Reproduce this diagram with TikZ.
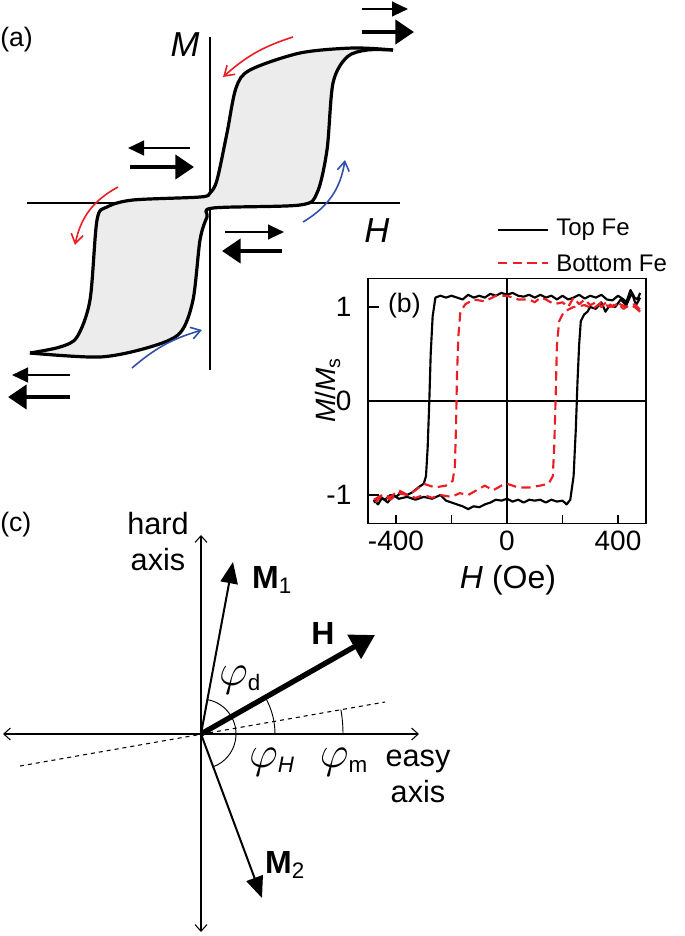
\documentclass[tikz,border=0pt]{standalone}
\usepackage{fontspec}
\setmainfont{Liberation Sans}
\usetikzlibrary{arrows.meta}
\definecolor{myred}{RGB}{235,30,35}
\definecolor{myblue}{RGB}{50,80,170}
\newcommand{\phisym}{\scalebox{1.35}{$\varphi$}}
\begin{document}
\begin{tikzpicture}[x=0.75pt,y=-0.75pt,
  lbl/.style={font=\fontsize{18}{20}\selectfont,inner sep=0pt},
  big/.style={font=\fontsize{26}{28}\selectfont\itshape,inner sep=0pt},
  curl/.style={line width=1.2pt,-{Straight Barb[length=7pt,width=9pt]}},
  thinmag/.style={line width=1.6pt,-{Triangle[length=12pt,width=11pt]}},
  thickmag/.style={line width=3.2pt,-{Triangle[length=14pt,width=18pt]}},
  ax/.style={line width=0.8pt,{Straight Barb[length=5pt,width=9pt]}-{Straight Barb[length=5pt,width=9pt]}},
  vec/.style={line width=1.5pt,-{Triangle[length=16pt,width=13pt]}},
]
\useasboundingbox (0,0) rectangle (685,936);
% ---------- panel (a)
\node[lbl,anchor=west,font=\fontsize{20}{22}\selectfont] (la) at (0,40) {(a)};
\draw[line width=0.8pt] (210,37) -- (210,370);
\draw[line width=0.8pt] (27,203) -- (400,203);
\node[big] (aM) at (185,45) {M};
\node[big] (aH) at (377,231) {H};
\path[fill=gray!15] plot[smooth,tension=0.5] coordinates {(393,50) (353,48) (300,53) (250,70) (236,88) (227,133) (217,180) (210,193) (200,197) (133,200) (107,207) (97,220) (90,300) (77,337) (60,347) (30,353) (33,355) (100,357) (150,347) (180,333) (193,300) (200,240) (207,217) (213,208) (300,205) (317,193) (327,150) (333,83) (347,57) (367,50) (393,50)};
\draw[line width=2.4pt,line join=round] plot[smooth,tension=0.5] coordinates {(393,50) (353,48) (300,53) (250,70) (236,88) (227,133) (217,180) (210,193) (200,197) (133,200) (107,207) (97,220) (90,300) (77,337) (60,347) (30,353)};
\draw[line width=2.4pt,line join=round] plot[smooth,tension=0.5] coordinates {(30,353) (100,357) (150,347) (180,333) (193,300) (200,240) (207,217) (213,208) (300,205) (317,193) (327,150) (333,83) (347,57) (367,50) (393,50)};
\coordinate (r1s) at (293,37); \coordinate (r1e) at (223,77);
\coordinate (r2s) at (118,187); \coordinate (r2e) at (75,245);
\coordinate (b1s) at (303,222); \coordinate (b1e) at (345,160);
\coordinate (b2s) at (132,368); \coordinate (b2e) at (202,330);
\draw[curl,myred] (r1s) to[bend right=12] (r1e);
\draw[curl,myred] (r2s) to[bend right=25] (r2e);
\draw[curl,myblue] (b1s) to[bend right=25] (b1e);
\draw[curl,myblue] (b2s) to[bend left=12] (b2e);
% magnet arrows
\coordinate (m1a) at (190,148); \coordinate (m1b) at (128,148);
\coordinate (m2a) at (130,167); \coordinate (m2b) at (194,167);
\coordinate (m3a) at (225,232); \coordinate (m3b) at (284,232);
\coordinate (m4a) at (282,251); \coordinate (m4b) at (222,251);
\coordinate (m5a) at (70,375); \coordinate (m5b) at (12,375);
\coordinate (m6a) at (70,397); \coordinate (m6b) at (8,397);
\coordinate (m7a) at (362,9); \coordinate (m7b) at (408,9);
\coordinate (m8a) at (362,32); \coordinate (m8b) at (414,32);
\draw[thinmag] (m1a) -- (m1b);
\draw[thickmag] (m2a) -- (m2b);
\draw[thinmag] (m3a) -- (m3b);
\draw[thickmag] (m4a) -- (m4b);
\draw[thinmag] (m5a) -- (m5b);
\draw[thickmag] (m6a) -- (m6b);
\draw[thinmag] (m7a) -- (m7b);
\draw[thickmag] (m8a) -- (m8b);
% ---------- panel (b)
\coordinate (l1a) at (498,230); \coordinate (l1b) at (548,230);
\coordinate (l2a) at (498,263); \coordinate (l2b) at (548,263);
\draw[line width=1.6pt] (l1a) -- (l1b);
\draw[line width=1.6pt,myred,dash pattern=on 7pt off 4pt] (l2a) -- (l2b);
\node[lbl,anchor=west] (tfe) at (556,230) {Top Fe};
\node[lbl,anchor=west] (bfe) at (556,263) {Bottom Fe};
\begin{scope}[shift={(507,401)},x=0.2081pt,y=70.5pt]
\draw[line width=0.8pt] (-501,-1.3) rectangle (501,1.3);
\draw[line width=0.8pt] (-501,0) -- (501,0);
\draw[line width=0.8pt] (0,-1.3) -- (0,1.3);
\foreach \t in {-400,-200,200,400} \draw[line width=0.8pt] (\t,-1.3) -- ++(0,0.09);
\foreach \t in {1,-1} \draw[line width=0.8pt] (-501,\t) -- ++(40,0);
\node[lbl,font=\fontsize{21}{22}\selectfont,anchor=east] (y1) at (-560,1) {1};
\node[lbl,font=\fontsize{21}{22}\selectfont,anchor=east] (y0) at (-560,0) {0};
\node[lbl,font=\fontsize{21}{22}\selectfont,anchor=east] (ym) at (-560,-1) {-1};
\node[lbl,font=\fontsize{21}{22}\selectfont,anchor=north] (x1) at (-400,-1.38) {-400};
\node[lbl,font=\fontsize{21}{22}\selectfont,anchor=north] (x0) at (0,-1.38) {0};
\node[lbl,font=\fontsize{21}{22}\selectfont,anchor=north] (x2) at (400,-1.38) {400};
\node[lbl,font=\fontsize{20}{22}\selectfont] (lb) at (-370,1.01) {(b)};
\draw[line width=1.6pt,line join=round] plot coordinates {(480,1.15) (470,1.08) (460,1.1) (445,1.18) (430,1.05) (420,1.08) (400,1.12) (380,1.07) (360,1.08) (340,1.13) (320,1.1) (300,1.12) (280,1.09) (260,1.13) (240,1.1) (220,1.08) (200,1.12) (180,1.08) (160,1.12) (140,1.1) (120,1.13) (100,1.1) (80,1.13) (60,1.11) (40,1.12) (20,1.15) (0,1.13) (-20,1.15) (-40,1.12) (-60,1.14) (-80,1.1) (-100,1.12) (-120,1.1) (-140,1.13) (-160,1.08) (-180,1.1) (-200,1.12) (-220,1.1) (-240,1.12) (-258,1.1) (-268,0.9) (-275,0.5) (-280,0) (-286,-0.5) (-292,-0.8) (-300,-0.88) (-320,-0.92) (-340,-0.97) (-360,-1.0) (-380,-0.97) (-400,-1.02) (-420,-1.0) (-440,-1.05) (-460,-1.03) (-480,-1.08)};
\draw[line width=1.6pt,line join=round] plot coordinates {(-480,-1.05) (-465,-1.1) (-450,-1.03) (-430,-1.08) (-410,-1.0) (-390,-1.04) (-360,-1.02) (-330,-1.05) (-300,-1.02) (-270,-1.04) (-240,-1.0) (-220,-1.06) (-200,-1.08) (-180,-1.1) (-160,-1.12) (-140,-1.15) (-120,-1.12) (-100,-1.13) (-80,-1.1) (-60,-1.08) (-40,-1.05) (-20,-1.06) (0,-1.04) (20,-1.07) (40,-1.05) (60,-1.08) (80,-1.05) (100,-1.06) (120,-1.05) (140,-1.08) (160,-1.05) (180,-1.07) (200,-1.06) (215,-1.1) (228,-1.05) (240,-0.8) (248,-0.3) (254,0.2) (260,0.6) (266,0.85) (278,0.92) (290,0.95) (300,1.0) (320,0.98) (340,1.05) (355,0.95) (370,1.02) (390,1.0) (410,1.08) (430,1.02) (450,1.15) (465,1.02) (480,1.1)};
\draw[line width=1.6pt,myred,dash pattern=on 7pt off 4pt,line join=round] plot coordinates {(480,0.95) (460,1.0) (440,1.02) (420,0.98) (400,1.04) (380,1.0) (360,1.06) (340,1.0) (320,1.05) (300,1.02) (280,1.08) (260,1.03) (240,1.1) (220,1.0) (200,1.05) (170,1.03) (140,1.08) (120,1.1) (100,1.05) (80,1.08) (40,1.08) (0,1.12) (-40,1.12) (-80,1.06) (-120,1.08) (-150,1.03) (-168,0.95) (-175,0.7) (-180,0.3) (-184,-0.3) (-188,-0.7) (-196,-0.85) (-220,-0.9) (-260,-0.92) (-300,-0.88) (-330,-0.95) (-360,-1.0) (-390,-0.95) (-420,-1.02) (-450,-1.0) (-480,-1.1)};
\draw[line width=1.6pt,myred,dash pattern=on 7pt off 4pt,line join=round] plot coordinates {(-480,-1.05) (-450,-1.0) (-420,-1.05) (-390,-0.98) (-360,-1.0) (-330,-1.03) (-300,-1.0) (-270,-1.03) (-240,-1.0) (-200,-1.02) (-170,-0.98) (-140,-1.0) (-110,-0.95) (-80,-0.9) (-50,-0.95) (-20,-0.9) (0,-0.88) (40,-0.92) (80,-0.92) (120,-0.9) (150,-0.88) (165,-0.8) (170,-0.5) (175,0) (180,0.6) (188,0.85) (205,0.95) (240,1.0) (280,1.02) (310,0.98) (340,1.05) (370,1.0) (400,1.04) (430,1.0) (460,1.03) (480,0.97)};
\end{scope}
\node[lbl,font=\fontsize{21}{22}\selectfont,rotate=90] (bM) at (328,390) {\textit{M}/\textit{M}\textsubscript{s}};
\node[lbl,font=\fontsize{24}{26}\selectfont] (bH) at (508,580) {\textit{H} (Oe)};
% ---------- panel (c)
\node[lbl,anchor=west,font=\fontsize{20}{22}\selectfont] (lc) at (0,525) {(c)};
\coordinate (O) at (201,734);
\coordinate (vt) at (201,535); \coordinate (vb) at (201,932);
\coordinate (hl) at (3,734); \coordinate (hr) at (419,734);
\coordinate (d1) at (20,766); \coordinate (d2) at (385,702);
\coordinate (M1) at (233,562); \coordinate (Hv) at (375,635); \coordinate (M2) at (262,898);
\draw[ax] (vb) -- (vt);
\draw[ax] (hl) -- (hr);
\draw[line width=0.8pt,dashed] (d1) -- (d2);
\draw[vec] (O) -- (M1);
\draw[vec] (O) -- (M2);
\draw[line width=4pt,-{Triangle[length=18pt,width=20pt]}] (O) -- (Hv);
\draw[line width=0.7pt] ([shift={(-79.5:35)}]O) arc[start angle=-79.5,end angle=69.6,radius=35];
\draw[line width=0.7pt] ([shift={(-29.6:74)}]O) arc[start angle=-29.6,end angle=0,radius=74];
\draw[line width=0.7pt] ([shift={(-9.9:142)}]O) arc[start angle=-9.9,end angle=0,radius=142];
\node[lbl,align=center,font=\fontsize{23}{27}\selectfont] (hax) at (158,542) {hard\\axis};
\node[lbl,align=center,font=\fontsize{23}{27}\selectfont] (eax) at (418,776) {easy\\axis};
\node[lbl,font=\fontsize{24}{26}\selectfont] (nM1) at (272,580) {\textbf{M}\textsubscript{1}};
\node[lbl,font=\fontsize{24}{26}\selectfont] (nH) at (323,633) {\textbf{H}};
\node[lbl,font=\fontsize{24}{26}\selectfont] (nM2) at (285,865) {\textbf{M}\textsubscript{2}};
\node[lbl,font=\fontsize{24}{26}\selectfont] (pd) at (240,680) {\phisym\textsubscript{d}};
\node[lbl,font=\fontsize{24}{26}\selectfont] (pH) at (272,762) {\phisym\textsubscript{\textit{H}}};
\node[lbl,font=\fontsize{24}{26}\selectfont] (pm) at (344,762) {\phisym\textsubscript{m}};
\end{tikzpicture}
\end{document}
